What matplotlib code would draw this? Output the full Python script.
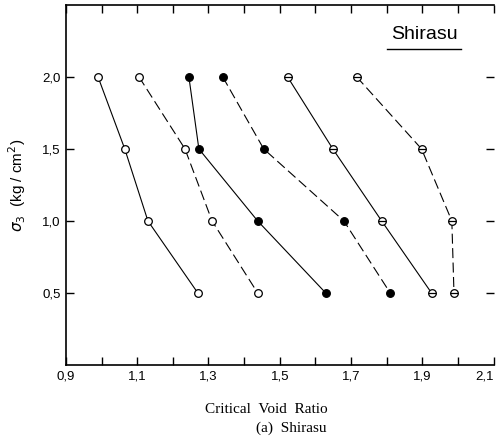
import matplotlib.pyplot as plt

# confining pressure levels (kg/cm2)
SIGMA3 = [2.0, 1.5, 1.0, 0.5]

# critical void ratio for each test series, same order as SIGMA3
E_OPEN_SOLID = [0.99, 1.065, 1.13, 1.27]
E_OPEN_DASH = [1.105, 1.234, 1.31, 1.438]
E_FILL_SOLID = [1.245, 1.273, 1.438, 1.629]
E_FILL_DASH = [1.34, 1.455, 1.68, 1.81]
E_BAR_SOLID = [1.522, 1.649, 1.786, 1.926]
E_BAR_DASH = [1.716, 1.898, 1.983, 1.989]

X_TICKS = [0.9, 1.0, 1.1, 1.2, 1.3, 1.4, 1.5, 1.6, 1.7, 1.8, 1.9, 2.0, 2.1]
X_LABELS = ["0,9", "", "1,1", "", "1,3", "", "1,5", "", "1,7", "", "1,9", "", "2,1"]
Y_TICKS = [0.5, 1.0, 1.5, 2.0]
Y_LABELS = ["0,5", "1,0", "1,5", "2,0"]

SANS = ["Liberation Sans Narrow", "Liberation Sans", "DejaVu Sans"]
SERIF = ["Liberation Serif", "DejaVu Serif"]
DASH = (0, (9, 4))
LW = 0.8


def plot_series(ax, x, y, ls, face, bar=False):
    ax.plot(x, y, color="black", lw=LW, linestyle=ls, marker="o", ms=5.5,
            mfc=face, mec="black", mew=0.9, zorder=3)
    if bar:
        # horizontal stroke through the circle
        ax.plot(x, y, linestyle="none", marker="_", ms=5.5, mec="black",
                mew=0.9, zorder=4)


def main():
    fig = plt.figure(figsize=(4.96, 4.44), dpi=100)
    ax = fig.add_axes([0.133, 0.178, 0.862, 0.811])

    plot_series(ax, E_OPEN_SOLID, SIGMA3, "-", "white")
    plot_series(ax, E_OPEN_DASH, SIGMA3, DASH, "white")
    plot_series(ax, E_FILL_SOLID, SIGMA3, "-", "black")
    plot_series(ax, E_FILL_DASH, SIGMA3, DASH, "black")
    plot_series(ax, E_BAR_SOLID, SIGMA3, "-", "white", bar=True)
    plot_series(ax, E_BAR_DASH, SIGMA3, DASH, "white", bar=True)

    ax.set_xlim(0.9, 2.1)
    ax.set_ylim(0.0, 2.5)
    ax.set_xticks(X_TICKS)
    ax.set_xticklabels(X_LABELS, family=SANS, fontsize=9.5)
    ax.set_yticks(Y_TICKS)
    ax.set_yticklabels(Y_LABELS, family=SANS, fontsize=9.5)
    ax.tick_params(direction="in", length=6, width=1.0, top=True, right=True,
                   pad=4)
    ax.spines["right"].set_visible(False)
    for side in ("left", "bottom", "top"):
        ax.spines[side].set_linewidth(1.2)
    # keep the last x label inside the canvas
    ax.get_xticklabels()[-1].set_horizontalalignment("right")

    ax.set_ylabel(r"$\sigma_3$  (kg / cm$^2$)", family=SANS, fontsize=11,
                  labelpad=10)

    ax.text(0.838, 0.917, "Shirasu", transform=ax.transAxes, ha="center",
            va="center", fontsize=14, family=SANS)
    ax.plot([0.751, 0.924], [0.878, 0.878], color="black", lw=1.0,
            transform=ax.transAxes, clip_on=False)

    fig.text(0.536, 0.077, "Critical  Void  Ratio", ha="center", va="center",
             fontsize=11, family=SERIF)
    fig.text(0.587, 0.036, "(a)  Shirasu", ha="center", va="center",
             fontsize=11, family=SERIF)

    fig.savefig("out.png", dpi=100)


if __name__ == "__main__":
    main()
